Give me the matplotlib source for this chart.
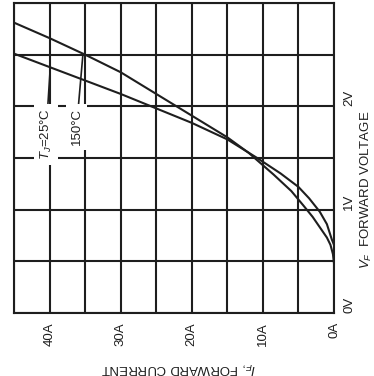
import numpy as np
import matplotlib
matplotlib.use("Agg")
import matplotlib.pyplot as plt

plt.rcParams['font.family'] = ['Liberation Sans', 'DejaVu Sans']
plt.rcParams['mathtext.fontset'] = 'custom'
plt.rcParams['mathtext.rm'] = 'Liberation Sans'
plt.rcParams['mathtext.it'] = 'Liberation Sans:italic'

# ---- data (I_F in A, V_F in V) ----
current_25c = [0.0, 0.3, 1.0, 2.0, 3.5, 5.0, 7.5, 10.8, 15.0, 20.0, 25.0, 30.0, 35.0, 40.0, 45.0]
voltage_25c = [0.66, 0.71, 0.86, 0.98, 1.11, 1.22, 1.35, 1.50, 1.68, 1.84, 1.98, 2.12, 2.25, 2.38, 2.51]

current_150c = [0.0, 0.15, 0.5, 1.0, 2.0, 3.0, 4.3, 6.0, 8.5, 12.0, 15.0, 20.0, 25.0, 30.0, 35.0, 40.0, 45.0]
voltage_150c = [0.48, 0.57, 0.66, 0.73, 0.83, 0.93, 1.04, 1.18, 1.34, 1.55, 1.70, 1.91, 2.12, 2.33, 2.50, 2.66, 2.81]

current_ticks = [0, 5, 10, 15, 20, 25, 30, 35, 40, 45]
current_labels = ['0A', '', '10A', '', '20A', '', '30A', '', '40A', '']
voltage_ticks = [0, 0.5, 1.0, 1.5, 2.0, 2.5, 3.0]
voltage_labels = ['0V', '', '1V', '', '2V', '', '']

label_25c = r'$T_J$=25°C'
label_150c = '150°C'
xlabel = r'$I_F$, FORWARD CURRENT'
ylabel = r'$V_F$  FORWARD VOLTAGE'

W, H = 374, 376
fig = plt.figure(figsize=(W / 100, H / 100), dpi=100)
ax = fig.add_axes([14 / W, 63 / H, 320 / W, 310 / H])

ink = '#1e1e1e'
ax.plot(current_25c, voltage_25c, color=ink, lw=1.5, zorder=3, solid_capstyle='butt')
ax.plot(current_150c, voltage_150c, color=ink, lw=1.5, zorder=3, solid_capstyle='butt')

ax.set_xlim(45, 0)
ax.set_ylim(0, 3)
ax.set_xticks(current_ticks)
ax.set_xticklabels(current_labels)
ax.set_yticks(voltage_ticks)
ax.set_yticklabels(voltage_labels)
ax.yaxis.tick_right()
ax.grid(True, color=ink, lw=1.5, zorder=1)
ax.set_axisbelow(True)
for s in ax.spines.values():
    s.set_color(ink)
    s.set_linewidth(1.5)
ax.tick_params(axis='both', length=0, pad=6.5, labelsize=9.5, colors=ink)
ax.tick_params(axis='x', labelrotation=90)
ax.tick_params(axis='y', labelrotation=90)
for lbl in ax.get_yticklabels():
    lbl.set_va('bottom')

# annotations
bbox = dict(boxstyle='square,pad=0.35', fc='white', ec='none')
i25 = 39.9
ax.annotate(label_25c, xy=(i25, np.interp(i25, current_25c, voltage_25c)),
            xytext=(40.5, 1.73), rotation=90, ha='center', va='center',
            fontsize=9.5, color=ink, bbox=bbox, zorder=5,
            arrowprops=dict(arrowstyle='-', color=ink, lw=1.2, shrinkA=0, shrinkB=0))
i150 = 35.3
ax.annotate(label_150c, xy=(i150, np.interp(i150, current_150c, voltage_150c)),
            xytext=(36.2, 1.80), rotation=90, ha='center', va='center',
            fontsize=9.5, color=ink, bbox=bbox, zorder=5,
            arrowprops=dict(arrowstyle='-', color=ink, lw=1.2, shrinkA=0, shrinkB=0))

fig.text(178 / W, 1 - 368 / H, xlabel, rotation=180, rotation_mode='anchor',
         ha='center', va='center', fontsize=9.5, color=ink)
fig.text(366 / W, 1 - 190 / H, ylabel, rotation=90, rotation_mode='anchor',
         ha='center', va='center', fontsize=9.5, color=ink)

fig.savefig('out.png', dpi=100, facecolor='white')
